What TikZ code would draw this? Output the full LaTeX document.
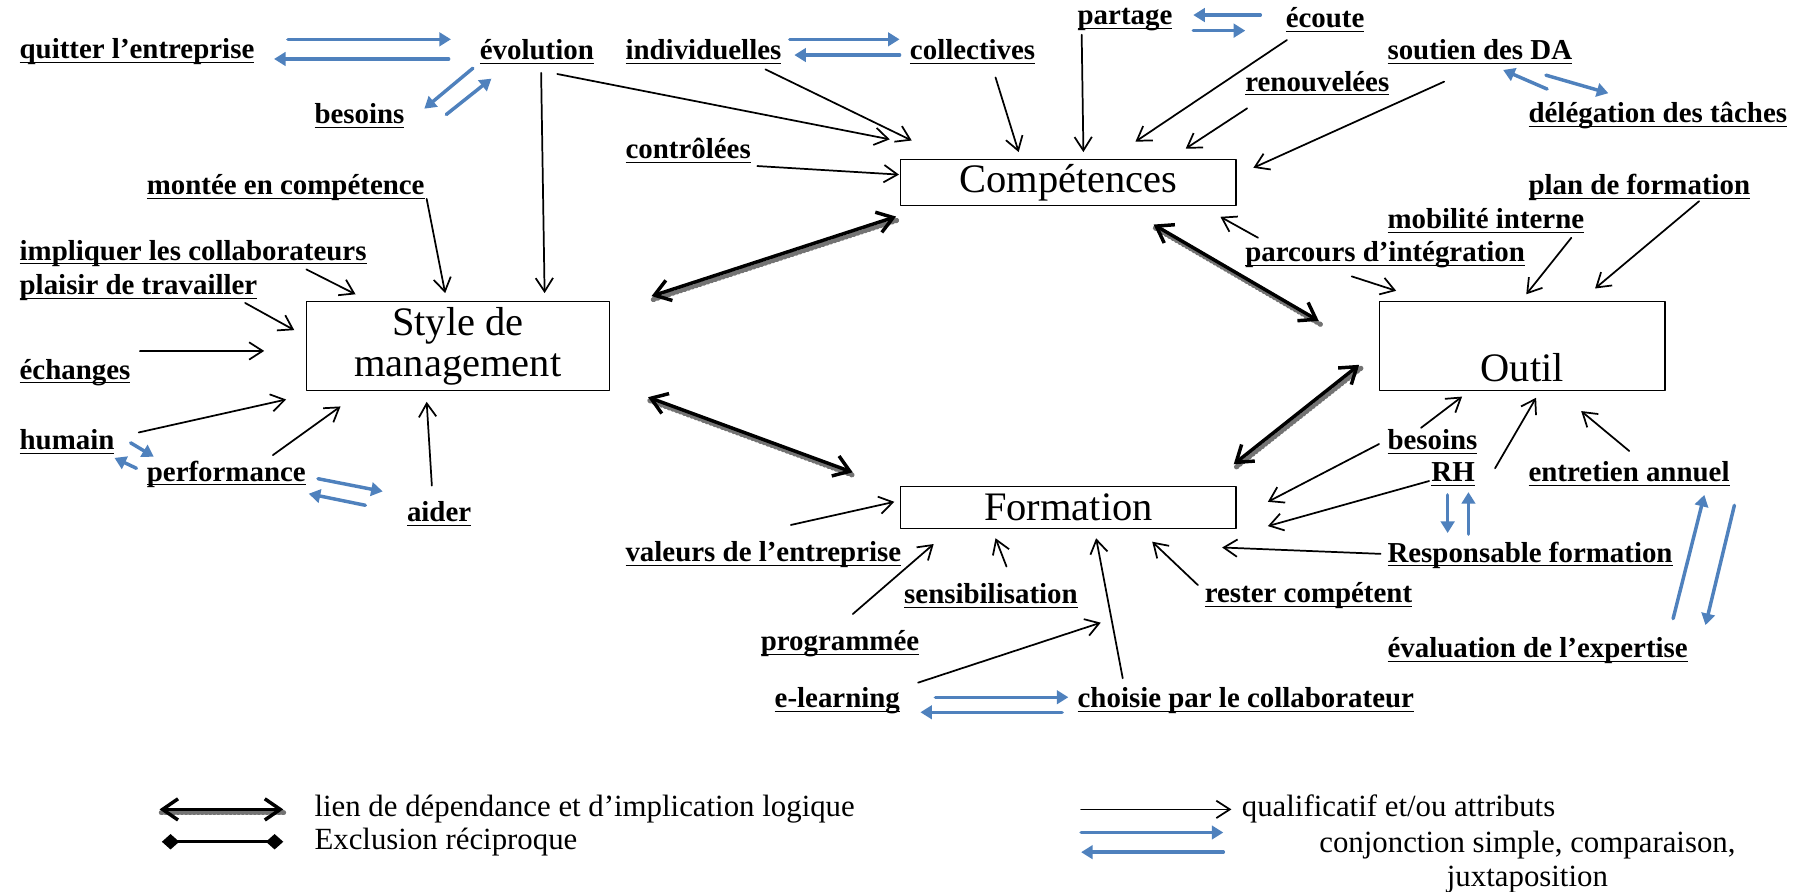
\documentclass[tikz,border=0pt]{standalone}
\usepackage{fontspec}
\setmainfont{Liberation Serif}
\usetikzlibrary{arrows.meta}
\definecolor{bleu}{RGB}{79,129,189}
\newcommand\souligne[1]{\setbox0\hbox{#1}\rlap{\rule[-2.2pt]{\wd0}{0.5pt}}\box0}
\tikzset{
  lab/.style={anchor=west, inner sep=1pt, font=\fontsize{15}{18}\selectfont\bfseries},
  leg/.style={inner sep=1pt, font=\fontsize{16}{18}\selectfont},
  boite/.style={draw, line width=0.6pt, inner sep=0pt, align=center, font=\fontsize{21}{21.6}\selectfont},
  qual/.style={line width=0.9pt, -{Straight Barb[length=7pt,width=9pt]}},
  conj/.style={bleu, line width=1.8pt, -{Triangle[length=6pt,width=7pt]}},
  lien/.style={line width=1.8pt, {Straight Barb[length=8pt,width=11pt]}-{Straight Barb[length=8pt,width=11pt]},
    preaction={draw=black!55, -, line width=2.6pt, dash pattern=on 0.5pt off 1.6pt,
      transform canvas={shift={(0.9pt,-1.8pt)}}}},
}
% connector from a shifted anchor to a shifted anchor
\newcommand\fl[5][qual]{\draw[#1] ([shift={(#3)}]#2) -- ([shift={(#5)}]#4);}
\begin{document}
\begin{tikzpicture}[x=0.6pt, y=-0.6pt, line cap=round, line join=round]
\useasboundingbox (0,0) rectangle (1568,771);
% les quatre concepts
\node[boite, minimum width=174pt, minimum height=24pt] (comp) at (924,158) {Compétences};
\node[boite, minimum width=157.2pt, minimum height=46.2pt] (mgmt) at (396,299.5) {Style de\\management};
\node[boite, minimum width=148.2pt, minimum height=46.2pt] (outil) at (1316.5,299.5) {\strut\\Outil};
\node[boite, minimum width=174pt, minimum height=21.6pt] (form) at (924,439) {Formation};
% les attributs
\foreach \n/\x/\y/\lab in {
  quit/15/45/quitter l'entreprise, evol/413/45/évolution, besL/270/100/besoins,
  indiv/539/45/individuelles, coll/785/45/collectives, part/930/17/partage,
  ecou/1110/17/écoute, sout/1198/45/soutien des DA, renou/1075/72/renouvelées,
  deleg/1320/100/délégation des tâches, ctrl/539/130/contrôlées,
  montee/125/162/montée en compétence, impl/15/219/impliquer les collaborateurs,
  plais/15/249/plaisir de travailler, ech/15/322/échanges, hum/15/382/humain,
  perf/125/410/performance, aid/350/444/aider, plan/1320/162/plan de formation,
  mob/1198/191/mobilité interne, parc/1075/220/parcours d'intégration,
  besR/1198/382/besoins, rh/1236/410/RH, entr/1320/410/entretien annuel,
  resp/1198/480/Responsable formation, eval/1198/563/évaluation de l'expertise,
  val/539/480/valeurs de l'entreprise, sens/780/515/sensibilisation,
  rest/1040/515/rester compétent, prog/656/557/programmée,
  elearn/668/606/e-learning, chois/930/606/choisie par le collaborateur}
  \node[lab] (\n) at (\x,\y) {\souligne{\lab}};
% liens de dependance
\fl[lien]{mgmt.north east}{36,-4.4}{comp.south west}{-3.5,8.8}
\fl[lien]{comp.south}{73.7,15.7}{outil.north west}{-52,17}
\fl[lien]{mgmt.south east}{33,5}{form.north west}{-41,-12}
\fl[lien]{outil.west}{-17,16}{form.north east}{-2.5,-19}
% qualificatifs
\fl{evol.west}{69,19}{comp.north west}{-9,-17}
\fl{indiv.west}{123,15}{comp.north west}{10,-16}
\fl{coll.west}{76,22}{comp.north}{-43,-6}
\fl{part.west}{5.5,13}{comp.north}{13,-6}
\fl{ecou.west}{3,17.6}{comp.north}{58,-15}
\fl{renou.west}{3.6,21.7}{comp.north east}{-44,-9}
\fl{sout.west}{51,25.6}{comp.north east}{14.5,7.6}
\fl{ctrl.west}{116,13.6}{comp.west}{-1,-7}
\fl{parc.west}{13,-14.4}{comp.south east}{-14,9}
\fl{montee.west}{244,10}{mgmt.north}{-11,-7}
\fl{evol.west}{55,18}{mgmt.north}{75,-7}
\fl{impl.west}{250,14}{mgmt.north west}{43,-6}
\fl{plais.west}{197,13}{mgmt.west}{-10,-14}
\fl{ech.west}{106,-18.4}{mgmt.west}{-36,4}
\fl{hum.west}{105,-8}{mgmt.south west}{-17,7}
\fl{perf.west}{111,-16.4}{mgmt.south west}{30,13}
\fl{aid.west}{23.5,-24}{mgmt.south}{-27,9}
\fl{parc.west}{94,19}{outil.north west}{15,-9}
\fl{mob.west}{161,14.6}{outil.north}{3.5,-6}
\fl{plan.west}{149.5,12}{outil.north east}{-61,-11}
\fl{besR.west}{31,-12}{outil.south west}{72,4.5}
\fl{rh.west}{57,-5}{outil.south}{12,5.5}
\fl{entr.west}{89,-20}{outil.south}{51,17}
\fl{besR.west}{-5.3,2}{form.east}{27,-5}
\fl{rh.west}{0,6}{form.east}{27,16}
\fl{resp.west}{-4,-1}{form.south east}{-12.5,16}
\fl{val.west}{145,-26}{form.west}{-5,-5}
\fl{prog.west}{81.6,-26}{form.south west}{29,13}
\fl{sens.west}{90.5,-25}{form.south}{-63,8}
\fl{chois.west}{41,-19.4}{form.south}{24,8}
\fl{elearn.west}{126,-15.6}{form.south}{28,81}
\fl{rest.west}{-4,-9}{form.south east}{-73,11}
% conjonctions
\fl[conj]{quit.west}{234,-11}{evol.west}{-23,-11}
\fl[conj]{evol.west}{-25,6}{quit.west}{222,6}
\fl[conj]{evol.west}{-4,14}{besL.west}{97,-6}
\fl[conj]{besL.west}{116,-1}{evol.west}{12,23}
\fl[conj]{indiv.west}{144,-11}{coll.west}{-7,-11}
\fl[conj]{coll.west}{-7,2.6}{indiv.west}{148,2.6}
\fl[conj]{ecou.west}{-20,-4}{part.west}{102,-4}
\fl[conj]{part.west}{102,9.5}{ecou.west}{-33,9.5}
\fl[conj]{deleg.west}{18,-23}{sout.west}{102,15.5}
\fl[conj]{sout.west}{139,20}{deleg.west}{71,-19.4}
\fl[conj]{hum.west}{98,1}{perf.west}{8,-15}
\fl[conj]{perf.west}{-7,-5}{hum.west}{84,14}
\fl[conj]{perf.west}{150,4}{aid.west}{-19,-19}
\fl[conj]{aid.west}{-34,-7}{perf.west}{142,17}
\fl[conj]{rh.west}{16,18}{resp.west}{54,-19}
\fl[conj]{resp.west}{72,-18}{rh.west}{34,15.6}
\fl[conj]{eval.west}{249,-28}{entr.west}{154,18}
\fl[conj]{entr.west}{180,27}{eval.west}{277,-22.4}
\fl[conj]{elearn.west}{141,-3}{chois.west}{-6,-3}
\fl[conj]{chois.west}{-11.4,10}{elearn.west}{128,10}
% legende
\coordinate (lA) at (138,700); \coordinate (lB) at (245,700);
\coordinate (eA) at (140,728); \coordinate (eB) at (245,728);
\coordinate (qA) at (935,700); \coordinate (qB) at (1065,700);
\coordinate (cA) at (935,720); \coordinate (cB) at (1058,720);
\coordinate (dA) at (1058,737); \coordinate (dB) at (935,737);
\draw[lien] (lA) -- (lB);
\draw[line width=1.5pt, {Diamond[length=9pt,width=8pt]}-{Diamond[length=9pt,width=8pt]}] (eA) -- (eB);
\draw[qual] (qA) -- (qB);
\draw[conj] (cA) -- (cB);
\draw[conj] (dA) -- (dB);
\node[leg, anchor=west] (legLien) at (270,700) {lien de dépendance et d'implication logique};
\node[leg, anchor=west] (legExcl) at (270,728) {Exclusion réciproque};
\node[leg, anchor=west] (legQual) at (1072,700) {qualificatif et/ou attributs};
\node[leg, align=center] (legConj) at (1321,745.5) {conjonction simple, comparaison,\\juxtaposition};
\end{tikzpicture}
\end{document}
